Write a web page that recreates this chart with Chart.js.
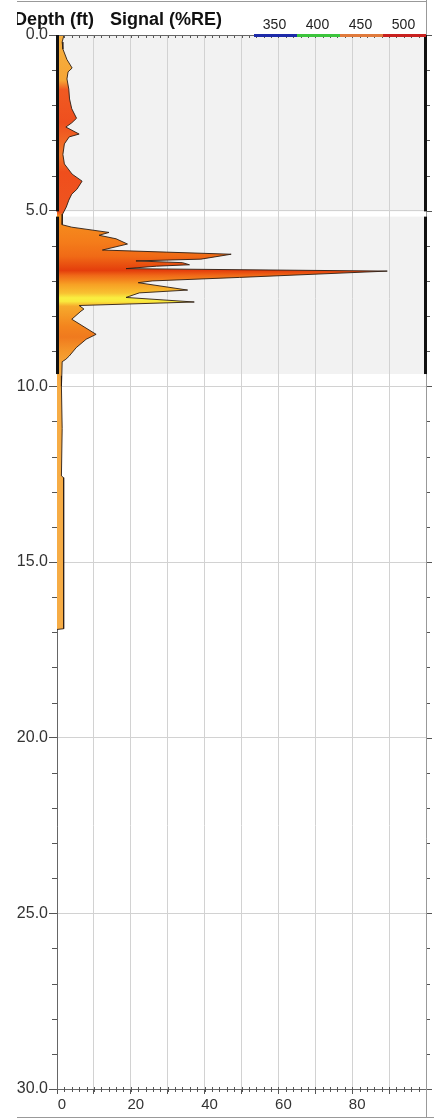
<!DOCTYPE html>
<html>
<head>
<meta charset="utf-8">
<script src="https://cdn.jsdelivr.net/npm/chart.js@4.4.1/dist/chart.umd.min.js"></script>
<style>
  html, body { margin: 0; padding: 0; background: #fff; }
  #wrap { width: 434px; height: 1120px; }
</style>
</head>
<body>
<div id="wrap"><canvas id="log" width="434" height="1120"></canvas></div>
<script>
(() => {
  /* -----------------------------
   * ----------------------------- */
  const depthFt = [
    0.00, 0.20, 0.40, 0.70, 0.94, 1.05, 1.25, 1.54, 1.82, 2.10,
    2.37, 2.50, 2.62, 2.82, 2.90, 3.10, 3.40, 3.67, 3.96, 4.16,
    4.39, 4.53, 4.70, 4.90, 5.10, 5.40, 5.47, 5.62, 5.70, 5.80,
    5.95, 6.12, 6.18, 6.24, 6.38, 6.43, 6.48, 6.54, 6.58, 6.65,
    6.72, 6.90, 7.00, 7.05, 7.26, 7.34, 7.47, 7.60, 7.70, 7.80,
    7.86, 8.09, 8.52, 8.66, 8.90, 9.14, 9.23, 9.30, 9.70, 10.00,
    11.20, 12.55, 12.60, 16.90, 16.92
  ];
  const signalRE = [
    1.9, 1.4, 1.6, 2.7, 4.1, 3.0, 2.7, 3.2, 3.4, 4.0,
    5.3, 4.0, 2.4, 6.0, 3.3, 2.0, 1.6, 2.0, 4.1, 6.8,
    5.4, 4.0, 3.2, 2.5, 1.5, 1.4, 4.0, 14.1, 11.4, 16.0,
    19.1, 12.3, 29.6, 47.2, 39.0, 21.4, 34.0, 35.9, 27.0, 18.7,
    89.5, 49.5, 25.8, 22.0, 35.4, 22.3, 18.7, 37.2, 6.0, 7.3,
    6.5, 4.0, 10.6, 7.9, 5.2, 3.3, 2.4, 1.4, 1.3, 1.2,
    1.4, 1.2, 1.8, 1.8, 0
  ];

  const depthTicks = [0, 5, 10, 15, 20, 25, 30];
  const signalTicks = [0, 20, 40, 60, 80];

  const legendLabels = ["350", "400", "450", "500"];

  // logged depth intervals (grey bands)
  const bandTop = [0, 5.17];
  const bandBottom = [5.02, 9.65];

  /* -----------------------------
   * Styles
   * ----------------------------- */
  const legendColors = ["#1c2aa8", "#3cc43c", "#e07a3c", "#c8201e"];
  const fillDepth = [0, 1.3, 1.55, 2.5, 3.4, 3.9, 5.05, 5.15, 5.9, 6.3, 6.7, 6.85, 7.1, 7.35, 7.48, 7.58, 7.72, 8.3, 8.6, 9.0, 9.4, 10, 30];
  const fillColor = ["#f7b040", "#f5a535", "#f05a22", "#ee4f1e", "#f2782a", "#ef4e1c", "#ee5520", "#f5901e", "#f47c1a", "#f06a16",
                     "#e43e0c", "#f06a18", "#f7a024", "#f8c232", "#f9ee40", "#f9ea3e", "#f6aa2c", "#f3841e", "#f07a1e", "#f4962a",
                     "#f5a63a", "#f6ac45", "#f6ac45"];
  const FONT = "Arial, 'Liberation Sans', sans-serif";

  function fillGradient(ctx) {
    const chart = ctx.chart;
    const y = chart.scales.y;
    if (!chart.chartArea || !y) return fillColor[0];
    const g = chart.ctx.createLinearGradient(0, y.getPixelForValue(0), 0, y.getPixelForValue(30));
    fillDepth.forEach((d, i) => g.addColorStop(d / 30, fillColor[i]));
    return g;
  }

  /* -----------------------------
   * Decorations
   * ----------------------------- */
  const logDecor = {
    id: "logDecor",
    beforeDraw(chart) {
      const { ctx, chartArea: a, scales: { y } } = chart;
      ctx.save();
      ctx.fillStyle = "#f2f2f2";
      bandTop.forEach((t, i) => {
        const y0 = y.getPixelForValue(t), y1 = y.getPixelForValue(bandBottom[i]);
        ctx.fillRect(a.left, y0, a.right - a.left, y1 - y0);
      });
      ctx.restore();
    },
    afterDraw(chart) {
      const { ctx, chartArea: a, scales: { x, y } } = chart;
      ctx.save();

      // minor ticks
      ctx.strokeStyle = "#555";
      ctx.lineWidth = 1;
      ctx.beginPath();
      for (let d = 1; d < 30; d++) {
        if (d % 5 === 0) continue;
        const py = Math.round(y.getPixelForValue(d)) + 0.5;
        ctx.moveTo(a.left - 5, py); ctx.lineTo(a.left, py);
        ctx.moveTo(a.right, py); ctx.lineTo(a.right + 4, py);
      }
      for (let v = 2; v < 100; v += 2) {
        const px = Math.round(x.getPixelForValue(v)) + 0.5;
        ctx.moveTo(px, a.bottom - 2); ctx.lineTo(px, a.bottom + 3);
        ctx.moveTo(px, a.top); ctx.lineTo(px, a.top + 3);
      }
      depthTicks.forEach((d) => {
        const py = Math.round(y.getPixelForValue(d)) + 0.5;
        ctx.moveTo(a.right, py); ctx.lineTo(a.right + 6, py);
      });
      ctx.stroke();

      // top + right borders
      ctx.strokeStyle = "#666";
      ctx.beginPath();
      ctx.moveTo(a.left, a.top + 0.5); ctx.lineTo(a.right, a.top + 0.5);
      ctx.stroke();
      ctx.strokeStyle = "#999";
      ctx.beginPath();
      ctx.moveTo(a.right + 0.5, 0); ctx.lineTo(a.right + 0.5, 1118);
      ctx.moveTo(17, 1.5); ctx.lineTo(a.right, 1.5);
      ctx.moveTo(17, 1117.5); ctx.lineTo(434, 1117.5);
      ctx.stroke();

      // thick bars marking the logged intervals
      ctx.fillStyle = "#111";
      bandTop.forEach((t, i) => {
        const y0 = y.getPixelForValue(t), y1 = y.getPixelForValue(bandBottom[i]);
        ctx.fillRect(a.left - 1, y0, 3, y1 - y0);
        ctx.fillRect(a.right - 2, y0, 3, y1 - y0);
      });

      // wavelength legend
      const segW = (a.right - 254) / legendLabels.length;
      ctx.font = "14px " + FONT;
      ctx.textAlign = "center";
      ctx.textBaseline = "alphabetic";
      legendLabels.forEach((lab, i) => {
        const x0 = 254 + i * segW;
        ctx.fillStyle = legendColors[i];
        ctx.fillRect(x0, a.top - 1, segW, 3);
        ctx.fillStyle = "#222";
        ctx.fillText(lab, x0 + segW / 2 - 1, 29);
      });

      // header
      ctx.beginPath();
      ctx.rect(17, 0, 434, 34);
      ctx.clip();
      ctx.fillStyle = "#111";
      ctx.textAlign = "left";
      ctx.font = "bold 18px " + FONT;
      ctx.fillText("Depth (ft)", 14, 25);
      ctx.fillText("Signal (%RE)", 110, 25);

      ctx.restore();
    },
  };

  /* -----------------------------
   * Chart
   * ----------------------------- */
  new Chart(document.getElementById("log"), {
    type: "line",
    data: {
      datasets: [
        {
          data: depthFt.map((d, i) => ({ x: signalRE[i], y: d })),
          borderColor: "rgba(45,30,20,0.9)",
          borderWidth: 1,
          backgroundColor: fillGradient,
          fill: "origin",
          pointRadius: 0,
          tension: 0,
        },
      ],
    },
    options: {
      indexAxis: "y",
      responsive: false,
      animation: false,
      layout: { padding: { top: 35, right: 8, left: 0, bottom: 0 } },
      plugins: { legend: { display: false }, tooltip: { enabled: false } },
      scales: {
        y: {
          type: "linear",
          reverse: true,
          min: 0,
          max: 30,
          afterFit: (s) => { s.width = 57; },
          afterBuildTicks: (s) => { s.ticks = depthTicks.map((v) => ({ value: v })); },
          ticks: {
            callback: (v) => Number(v).toFixed(1),
            font: { size: 16, family: FONT },
            color: "#333",
            padding: 1,
          },
          grid: { color: "#d2d2d2", tickColor: "#555", tickLength: 8 },
          border: { color: "#666" },
        },
        x: {
          type: "linear",
          position: "bottom",
          min: 0,
          max: 100,
          afterFit: (s) => { s.height = 31; },
          ticks: {
            stepSize: 10,
            autoSkip: false,
            callback: (v) => (signalTicks.includes(v) ? String(v) : ""),
            font: { size: 15, family: FONT },
            color: "#333",
            labelOffset: 5,
            padding: 2,
          },
          grid: { color: "#d2d2d2", tickColor: "#555", tickLength: 5 },
          border: { color: "#666" },
        },
      },
    },
    plugins: [logDecor],
  });
})();
</script>
</body>
</html>
